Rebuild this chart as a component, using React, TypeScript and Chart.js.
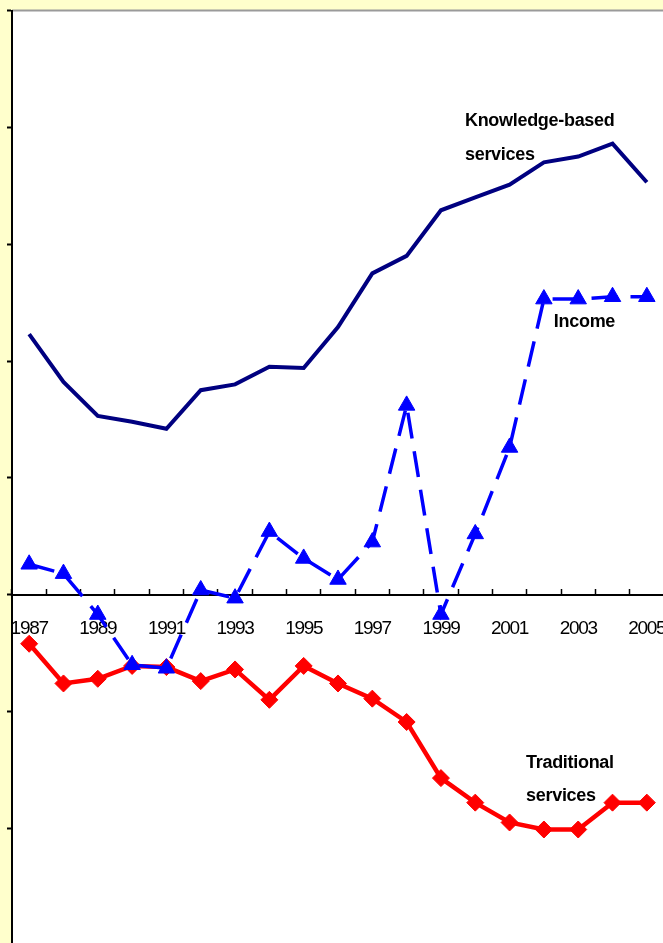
import { useEffect, useRef } from 'react';
import { Chart, registerables } from 'chart.js';

Chart.register(...registerables);

const years = [
  '1987', '1988', '1989', '1990', '1991', '1992', '1993', '1994', '1995', '1996',
  '1997', '1998', '1999', '2000', '2001', '2002', '2003', '2004', '2005',
];

const knowledgeBased = [
  22.3, 18.2, 15.3, 14.8, 14.2, 17.5, 18.0, 19.5, 19.4, 22.9,
  27.5, 29.0, 32.9, 34.0, 35.1, 37.0, 37.5, 38.6, 35.3,
];

const income = [
  2.6, 1.8, -1.7, -6.0, -6.3, 0.4, -0.3, 5.4, 3.1, 1.3,
  4.5, 16.2, -1.7, 5.2, 12.6, 25.3, 25.3, 25.5, 25.5,
];

const traditional = [
  -4.2, -7.6, -7.2, -6.1, -6.2, -7.4, -6.4, -9.0, -6.1, -7.6,
  -8.9, -10.9, -15.7, -17.8, -19.5, -20.1, -20.1, -17.8, -17.8,
];

const seriesNames = ['Knowledge-based services', 'Income', 'Traditional services'];

// Text labels anchored in data coordinates (category index, value)
const notes = [
  { lines: ['Knowledge-based', 'services'], at: [12.7, 40.5] },
  { lines: ['Income'], at: [15.29, 23.3] },
  { lines: ['Traditional', 'services'], at: [14.48, -14.4] },
];

const FONT = '"Liberation Sans", Arial, sans-serif';

const framePlugin = {
  id: 'frame',
  beforeDraw(chart: any) {
    const { ctx, chartArea: a } = chart;
    ctx.save();
    ctx.fillStyle = '#ffffff';
    ctx.fillRect(a.left, a.top, a.right - a.left, a.bottom - a.top);
    ctx.strokeStyle = '#9a9a9a';
    ctx.lineWidth = 2;
    ctx.beginPath();
    ctx.moveTo(a.left, a.top);
    ctx.lineTo(chart.width, a.top);
    ctx.stroke();
    ctx.restore();
    ctx.letterSpacing = '-1.3px';
  },
  afterDraw(chart: any) {
    const { ctx, scales } = chart;
    ctx.save();
    ctx.letterSpacing = '-0.3px';
    ctx.fillStyle = '#000';
    ctx.font = `bold 18px ${FONT}`;
    ctx.textAlign = 'left';
    ctx.textBaseline = 'middle';
    const unit = Math.abs(scales.y.getPixelForValue(0) - scales.y.getPixelForValue(1));
    notes.forEach((n) => {
      const x = scales.x.getPixelForValue(n.at[0]);
      const y = scales.y.getPixelForValue(n.at[1]);
      n.lines.forEach((t, i) => {
        ctx.fillText(t, x, y + i * unit * 2.85);
      });
    });
    ctx.restore();
  },
};

export default function App() {
  const ref = useRef<HTMLCanvasElement>(null);

  useEffect(() => {
    if (!ref.current) return;
    const chart = new Chart(ref.current, {
      type: 'line',
      data: {
        labels: years,
        datasets: [
          {
            label: seriesNames[0],
            data: knowledgeBased,
            borderColor: '#000080',
            backgroundColor: '#000080',
            borderWidth: 4,
            pointRadius: 0,
            tension: 0,
            order: 2,
          },
          {
            label: seriesNames[1],
            data: income,
            borderColor: '#0000FF',
            backgroundColor: '#0000FF',
            borderWidth: 3.5,
            borderDash: [26, 13],
            pointStyle: 'triangle',
            pointRadius: 9.5,
            pointBorderWidth: 1,
            tension: 0,
            order: 0,
          },
          {
            label: seriesNames[2],
            data: traditional,
            borderColor: '#FF0000',
            backgroundColor: '#FF0000',
            borderWidth: 4.5,
            pointStyle: 'rectRot',
            pointRadius: 8.5,
            pointBorderWidth: 1,
            tension: 0,
            order: 1,
          },
        ],
      },
      options: {
        animation: false,
        responsive: false,
        layout: { padding: { left: 7, top: 7, right: 36, bottom: 18 } },
        plugins: {
          legend: { display: false },
          tooltip: { enabled: false },
        },
        scales: {
          x: {
            type: 'category',
            position: { y: 0 } as any,
            offset: true,
            z: 1,
            grid: {
              display: true,
              drawOnChartArea: false,
              drawTicks: true,
              tickLength: -7,
              tickColor: '#000',
              tickWidth: 1.5,
              offset: true,
            },
            border: { display: true, color: '#000', width: 2 },
            ticks: {
              autoSkip: false,
              maxRotation: 0,
              minRotation: 0,
              padding: 30,
              color: '#000',
              font: { family: FONT, size: 19 },
              callback: (_v: any, i: number) => (i % 2 === 0 ? years[i] : ''),
            },
            afterFit: (s: any) => {
              s.paddingLeft = 0;
              s.paddingRight = 0;
            },
          } as any,
          y: {
            min: -40,
            max: 50,
            ticks: { stepSize: 10, display: false },
            grid: {
              drawOnChartArea: false,
              drawTicks: true,
              tickLength: 5,
              tickColor: '#000',
              tickWidth: 2,
            },
            border: { display: true, color: '#000', width: 2 },
          },
        },
      },
      plugins: [framePlugin],
    });
    return () => chart.destroy();
  }, []);

  return (
    <div
      style={{
        position: 'fixed',
        left: 0,
        top: 0,
        width: 663,
        height: 943,
        overflow: 'hidden',
        background: '#FFFFCC',
      }}
    >
      <canvas
        ref={ref}
        width={700}
        height={1080}
        style={{ position: 'absolute', left: 0, top: 0, width: 700, height: 1080 }}
      />
    </div>
  );
}
